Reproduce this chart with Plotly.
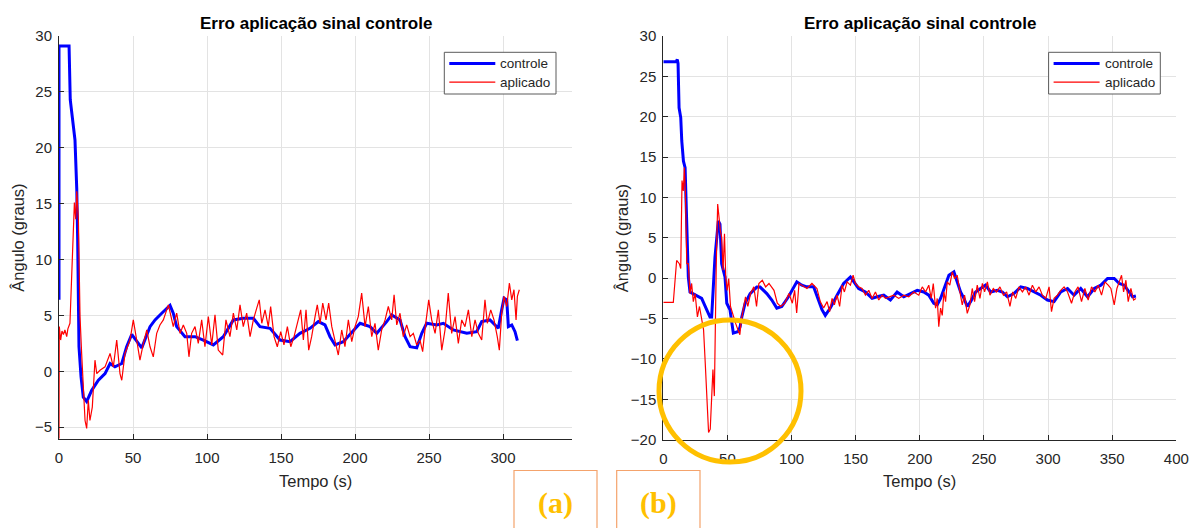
import plotly.graph_objects as go

W, H = 1190, 528

# ---------------- data ----------------
title_text = "Erro aplicação sinal controle"
xlabel_text = "Tempo (s)"
ylabel_text = "Ângulo (graus)"
legend_names = ["controle", "aplicado"]
panel_labels = ["(a)", "(b)"]

a_xticks = [0, 50, 100, 150, 200, 250, 300]
a_yticks = [-5, 0, 5, 10, 15, 20, 25, 30]
b_xticks = [0, 50, 100, 150, 200, 250, 300, 350, 400]
b_yticks = [-20, -15, -10, -5, 0, 5, 10, 15, 20, 25, 30]
a_xrange = [0, 346.6]
a_yrange = [-6.08, 30]
b_xrange = [0, 400]
b_yrange = [-20, 30]

# panel (a) - controle
a_t_controle = [0, 0, 6.8, 7.6, 10.8, 12.0, 12.6, 13.0, 13.5, 14.9, 16.4, 18.7, 22.1, 26.6, 31.1, 34.5,
                37.8, 42.4, 45.7, 49.1, 55.9, 61.5, 64.9, 69.4, 75.0, 77.2, 79.5, 85.1, 91.9, 97.5,
                104.3, 111.0, 117.8, 124.5, 131.3, 135.8, 142.6, 149.3, 156.1, 162.8, 169.6, 175.2,
                179.7, 183.1, 186.5, 192.1, 198.9, 203.4, 210.1, 214.7, 221.4, 224.8, 230.4, 233.8,
                237.2, 241.7, 245.1, 248.4, 255.2, 259.7, 266.4, 275.5, 282.2, 285.6, 291.2, 296.8,
                299.1, 300.7, 302.5, 303.6, 305.9, 308.1, 309.7]
a_controle = [6.4, 29.1, 29.1, 24.3, 20.7, 16.3, 11.8, 6.4, 2.2, -0.5, -2.3, -2.7, -1.7, -0.8, -0.2, 0.7,
              0.4, 0.7, 2.2, 3.3, 2.1, 4.0, 4.6, 5.2, 5.9, 5.2, 4.0, 3.1, 3.1, 2.8,
              2.36, 3.1, 4.6, 4.75, 4.75, 4.0, 3.85, 2.8, 2.65, 3.4, 3.85, 4.45,
              4.15, 3.1, 2.36, 2.65, 3.7, 4.3, 4.0, 3.4, 4.45, 5.05, 4.6, 3.1,
              2.2, 2.1, 3.4, 4.3, 4.15, 4.3, 3.7, 3.4, 3.55, 4.45, 4.6, 3.85,
              5.5, 6.55, 6.4, 4.0, 4.15, 3.55, 2.75]

# panel (a) - aplicado
a_t_aplicado = [0, 0.2, 1.1, 2.0, 3.0, 4.0, 5.2, 6.0, 7.4, 9.0, 10.4, 11.3, 12.0, 13.1, 14.2, 15.3, 16.4,
                17.6, 18.7, 19.8, 20.9, 22.5, 24.3, 25.5, 27.7, 31.1, 34.5, 36.7, 39.0, 41.2, 42.4,
                44.6, 48.0, 50.2, 52.5, 54.7, 57.0, 59.3, 61.5, 63.7, 66.0, 68.2, 70.5, 72.7, 73.9,
                75.7, 77.2, 79.5, 81.8, 84.0, 86.3, 87.8, 89.6, 91.9, 94.1,
                96.4, 98.6, 100.9, 103.2, 105.4, 107.6, 110.6, 112.8, 115.5, 117.8, 120.1, 122.3,
                124.5, 126.8, 129.1, 131.3, 133.6, 135.3, 137.0, 139.2, 141.4, 143.0, 145.3, 147.5,
                149.8, 152.0, 154.3, 156.6, 158.8, 161.0, 163.3, 165.1, 166.9, 168.7, 170.7, 173.0,
                174.5, 176.4, 178.2, 180.4, 182.2, 184.3, 186.5, 188.7, 191.0, 193.2, 195.5, 197.8,
                200.0, 202.2, 204.5, 206.8, 209.0, 211.3, 213.5, 215.7, 218.0, 220.3, 222.5, 224.8,
                226.4, 228.2, 230.4, 232.6, 234.9, 237.2, 239.4, 241.7, 243.9, 245.7, 247.5, 249.8,
                251.8, 254.1, 256.3, 258.6, 260.8, 263.0, 265.3, 267.6, 269.8, 272.1, 274.3, 276.6,
                278.9, 281.1, 283.3, 285.6, 287.8, 289.4, 291.7, 293.9, 296.1, 297.5, 299.1, 300.7,
                302.5, 304.3, 305.9, 307.4, 308.8, 309.7, 311.0]
a_aplicado = [-6.0, 4.0, 2.8, 3.6, 3.3, 3.7, 3.1, 3.8, 4.3, 10.0, 15.1, 13.6, 16.1, 13.6, 4.9, 1.6, -0.8,
              -4.4, -5.1, -2.6, -4.4, -3.2, 1.0, -0.2, 0.1, 0.4, 1.6, 0.4, 2.8, -0.2, -0.8,
              1.6, 2.8, 4.6, 2.8, 1.0, 2.5, 3.7, 2.2, 1.3, 3.4, 4.15, 4.6, 5.5, 5.95,
              4.9, 4.0, 5.2, 3.4, 4.15, 3.4, 1.3, 3.4, 4.0, 2.5,
              4.6, 2.2, 4.9, 2.36, 5.05, 1.9, 1.46, 4.6, 3.1, 5.2, 3.7, 5.95,
              4.0, 5.2, 3.1, 4.6, 5.65, 6.4, 4.3, 5.5, 4.0, 5.8, 3.1, 2.2,
              3.55, 2.36, 4.0, 2.2, 3.1, 4.3, 5.5, 2.8, 5.5, 1.9, 3.1, 4.9,
              5.95, 4.3, 6.1, 4.6, 6.1, 4.0, 2.65, 1.46, 3.7, 2.2, 4.6, 2.65,
              4.0, 4.9, 7.0, 4.0, 5.8, 3.1, 4.3, 1.9, 3.7, 4.6, 5.8, 4.6,
              6.85, 4.15, 5.2, 3.1, 4.15, 3.1, 3.4, 2.36, 2.8, 1.76, 4.0, 6.4,
              4.6, 3.4, 5.5, 1.9, 3.7, 7.0, 3.4, 4.9, 2.5, 4.6, 4.0, 5.5,
              3.1, 4.6, 3.4, 2.8, 6.4, 4.3, 5.5, 4.6, 3.1, 1.9, 5.2, 6.7,
              5.8, 7.9, 6.4, 7.3, 4.6, 6.7, 7.3]

# panel (b) - controle
b_t_controle = [0, 10.0, 10.9, 11.5, 12.3, 13.6, 14.4, 15.7, 17.0, 17.7, 18.3, 19.5, 20.8, 26.0, 29.9,
                33.8, 36.4, 37.7, 39.0, 40.3, 42.9, 44.2, 45.5, 48.1, 49.5, 52.0, 54.6, 58.5, 59.9,
                61.2, 63.8, 67.7, 72.9, 75.5, 80.7, 84.6, 88.5, 92.4, 97.6, 101.5, 104.1, 108.0,
                112.0, 117.2, 121.1, 123.7, 126.3, 130.2, 135.5, 140.6, 145.9, 148.5, 152.3, 157.6,
                162.8, 166.7, 171.9, 177.1, 182.3, 187.5, 192.7, 198.0, 203.1, 207.0, 210.9, 213.6,
                216.2, 220.1, 222.7, 226.6, 229.2, 231.8, 234.4, 237.0, 239.6, 243.5, 247.4, 251.3,
                255.2, 260.5, 264.4, 268.3, 273.4, 278.7, 283.9, 289.1, 294.3, 299.5, 304.7, 309.9,
                315.2, 320.3, 325.5, 330.8, 336.0, 341.2, 346.4, 351.6, 355.5, 359.4, 363.3, 365.9,
                368.5]
b_controle = [26.8, 26.8, 27.1, 26.6, 21.1, 19.9, 17.0, 14.5, 13.7, 10.0, 5.9, 0.16, -1.7, -2.1, -2.5,
              -3.9, -4.8, -4.8, -0.65, 2.6, 7.1, 6.7, 1.8, 0.16, -3.1, -3.9, -6.8, -6.6, -6.0,
              -4.8, -3.1, -1.9, -1.1, -1.1, -1.9, -2.7, -3.7, -3.5, -2.3, -1.1, -0.45, -0.86,
              -1.07, -1.07, -2.9, -3.9, -4.6, -3.7, -2.1, -0.65, 0.16, -0.45, -1.27, -1.7,
              -2.5, -2.3, -2.1, -2.7, -1.7, -2.3, -1.9, -1.5, -1.7, -2.1, -3.1, -3.3,
              -2.5, -0.86, 0.37, 0.78, -0.45, -1.7, -2.5, -3.5, -2.9, -1.7, -1.27, -0.86,
              -1.7, -1.5, -1.7, -2.3, -1.9, -1.07, -1.27, -1.7, -2.1, -2.7, -2.9, -1.7,
              -1.27, -2.1, -1.27, -2.3, -1.27, -0.86, -0.04, -0.04, -0.65, -0.86, -1.7, -2.3,
              -2.2]

# panel (b) - aplicado
b_t_aplicado = [0, 7.8, 10.4, 12.5, 13.6, 14.6, 15.6, 16.4, 17.2, 18.3, 19.5, 20.8, 22.1, 23.4, 24.8,
                26.6, 28.2, 30.1, 31.4, 32.7, 34.0, 35.3, 36.6, 37.4, 38.7, 39.8, 40.5, 41.3, 42.4,
                43.4, 44.5, 45.5, 46.6, 47.7, 48.7, 49.8, 51.0, 52.4, 54.5, 56.4, 58.2, 59.7, 60.8,
                62.4, 64.1, 65.9, 68.0, 70.6, 72.7, 74.5, 77.2, 79.8, 82.4, 86.3, 88.9, 91.5, 94.6,
                98.0, 100.6, 102.4, 104.0, 105.8,
                108.1, 112.0, 115.9, 119.8, 122.4, 125.0, 127.7, 129.7, 131.6, 133.4, 135.5, 137.5,
                139.4, 141.2, 143.3, 145.9, 148.0, 149.8, 152.3, 155.0, 157.6, 160.2, 162.8, 165.4,
                168.0, 170.6, 173.2, 175.8, 179.7, 183.6, 187.5, 191.4, 195.3, 199.2, 201.9, 204.5,
                207.0, 208.9, 210.5, 212.3, 213.6, 214.8, 216.2, 217.5, 218.8, 220.1, 221.4, 223.4,
                225.3, 227.1, 229.2, 231.3, 233.1, 234.9, 237.0, 239.1, 240.9, 242.7, 244.8, 246.9,
                248.8, 250.5, 252.7, 254.7, 257.3, 259.9, 262.5, 265.2, 267.7, 270.3, 272.4, 274.8,
                277.3, 280.0, 282.6, 285.2, 287.8, 290.4, 293.0, 295.6, 298.2, 300.8, 302.7, 304.7,
                307.3, 309.9, 312.5, 315.2, 318.3, 320.9, 323.4, 326.1, 328.7, 331.3, 333.9, 336.5,
                339.1, 341.7, 344.3, 346.9, 349.0, 351.6, 353.7, 355.5, 357.3, 358.9, 360.7, 362.5,
                364.6, 366.7, 368.5]
b_aplicado = [-3.0, -3.0, 2.2, 1.8, 1.2, 12.1, 10.8, 13.7, 10.8, 1.8, 1.8, -1.9, -0.65, -2.9, -1.9,
              -4.8, -3.5, -5.6, -6.4, -10.5, -14.6, -19.1, -18.7, -15.8, -11.3, -14.6, -4.3, 1.8, 9.2,
              7.5, 5.9, 5.1, 1.0, 5.5, 0.16, -1.5, -0.04, -3.5, -4.8, -5.6, -6.4, -7.0, -5.2,
              -3.5, -2.3, -3.5, -1.9, -1.07, -3.5, -0.65, -0.25, -1.07, -0.65, -1.5, -3.1, -3.5, -3.1,
              -1.9, -3.1, -1.5, -4.3, -0.65,
              -0.86, -1.27, -0.65, -1.27, -2.9, -3.7, -2.9, -4.15, -2.5, -3.3, -2.1, -3.5,
              -0.86, -1.7, -0.45, -0.86, 0.37, -0.65, -1.07, -1.27, -2.1, -1.5, -2.5, -1.7,
              -2.7, -2.1, -2.5, -2.3, -2.1, -2.5, -2.1, -2.3, -1.7, -2.1, -1.07, -1.7,
              -0.86, -2.5, -0.65, -3.7, -2.5, -6.0, -3.7, -4.6, -1.7, -2.9, -0.45, -0.86,
              0.78, -0.04, 0.37, -1.7, -3.3, -2.1, -4.35, -3.3, -1.27, -2.9, -0.86, -2.5,
              -0.65, -1.7, -0.45, -2.1, -1.27, -1.7, -1.07, -2.1, -1.7, -3.5, -1.7, -2.5,
              -1.07, -1.7, -1.07, -2.1, -0.86, -1.7, -1.07, -2.1, -2.5, -1.07, -4.15, -2.5,
              -2.1, -1.5, -1.07, -1.7, -3.1, -1.7, -1.07, -2.9, -1.27, -2.7, -1.07, -1.7,
              -0.86, -2.1, -0.45, -0.86, -1.27, -3.3, -1.27, -0.45, 0.37, -1.7, -0.25, -2.9,
              -1.27, -2.7, -2.5]

# ---------------- figure ----------------
BLUE = "#0000FF"
RED = "#FF0000"
AX = "#262626"
GRID = "#E3E3E3"
GOLD = "#FFC000"
FONT = "Liberation Sans, Arial, Helvetica, sans-serif"

# pixel geometry of the two axes boxes
A_BOX = (59, 572, 36, 439.3)     # left, right, top, bottom
B_BOX = (663.3, 1176.3, 36, 439.7)


def px(x):
    return x / W


def py(y):
    return 1 - y / H


fig = go.Figure()
fig.add_trace(go.Scatter(x=a_t_controle, y=a_controle, mode="lines", name=legend_names[0],
                         line=dict(color=BLUE, width=3), xaxis="x", yaxis="y", showlegend=False))
fig.add_trace(go.Scatter(x=a_t_aplicado, y=a_aplicado, mode="lines", name=legend_names[1],
                         line=dict(color=RED, width=1.2), xaxis="x", yaxis="y", showlegend=False))
fig.add_trace(go.Scatter(x=b_t_controle, y=b_controle, mode="lines", name=legend_names[0],
                         line=dict(color=BLUE, width=3), xaxis="x2", yaxis="y2", showlegend=False))
fig.add_trace(go.Scatter(x=b_t_aplicado, y=b_aplicado, mode="lines", name=legend_names[1],
                         line=dict(color=RED, width=1.2), xaxis="x2", yaxis="y2", showlegend=False))


def xaxis(box, rng, ticks, anchor):
    return dict(domain=[px(box[0]), px(box[1])], range=rng, tickvals=ticks,
                showgrid=True, gridcolor=GRID, gridwidth=1, zeroline=False,
                showline=True, linecolor=AX, linewidth=1, ticks="inside", ticklen=5,
                tickcolor=AX, tickfont=dict(family=FONT, size=15, color=AX),
                ticklabelstandoff=5,
                anchor=anchor, fixedrange=True, automargin=False)


def yaxis(box, rng, ticks, anchor):
    return dict(domain=[py(box[3]), py(box[2])], range=rng, tickvals=ticks,
                showgrid=True, gridcolor=GRID, gridwidth=1, zeroline=False,
                showline=True, linecolor=AX, linewidth=1, ticks="inside", ticklen=5,
                tickcolor=AX, tickfont=dict(family=FONT, size=15, color=AX),
                ticklabelstandoff=3,
                anchor=anchor, fixedrange=True, automargin=False)


shapes = []
annotations = []

for box in (A_BOX, B_BOX):
    l, r, t, b = box
    cx = (l + r) / 2
    # title
    annotations.append(dict(text="<b>" + title_text + "</b>", x=px(cx), y=py(23), xref="paper", yref="paper",
                            xanchor="center", yanchor="middle", showarrow=False,
                            font=dict(family=FONT, size=17, color="#000000")))
    # x label
    annotations.append(dict(text=xlabel_text, x=px(cx), y=py(481), xref="paper", yref="paper",
                            xanchor="center", yanchor="middle", showarrow=False,
                            font=dict(family=FONT, size=16.5, color=AX)))
    # y label
    annotations.append(dict(text=ylabel_text, x=px(l - 41), y=py((t + b) / 2), xref="paper", yref="paper",
                            xanchor="center", yanchor="middle", showarrow=False, textangle=-90,
                            font=dict(family=FONT, size=16.5, color=AX)))
    # legend box
    lx0, lx1, ly0, ly1 = r - 127.7, r - 16, 52.3, 94
    shapes.append(dict(type="rect", xref="paper", yref="paper", x0=px(lx0), x1=px(lx1), y0=py(ly1), y1=py(ly0),
                       line=dict(color="#5A5A5A", width=1), fillcolor="white", layer="above"))
    for i, (name, col, wd) in enumerate(zip(legend_names, [BLUE, RED], [3, 1.2])):
        yy = 63.5 + i * 18.7
        shapes.append(dict(type="line", xref="paper", yref="paper", x0=px(lx0 + 5), x1=px(lx0 + 51),
                           y0=py(yy), y1=py(yy), line=dict(color=col, width=wd), layer="above"))
        annotations.append(dict(text=name, x=px(lx0 + 54), y=py(yy), xref="paper", yref="paper",
                                xanchor="left", yanchor="middle", showarrow=False,
                                font=dict(family=FONT, size=13.5, color=AX)))

# panel labels with orange boxes
for lab, (x0, x1) in zip(panel_labels, [(514, 597), (616.7, 700)]):
    shapes.append(dict(type="rect", xref="paper", yref="paper", x0=px(x0), x1=px(x1), y0=py(540), y1=py(470.5),
                       line=dict(color="#F4A36C", width=1.2), fillcolor="rgba(0,0,0,0)", layer="above"))
    annotations.append(dict(text="<b>" + lab + "</b>", x=px((x0 + x1) / 2), y=py(503), xref="paper", yref="paper",
                            xanchor="center", yanchor="middle", showarrow=False,
                            font=dict(family="Liberation Serif, Times New Roman, serif", size=30, color=GOLD)))

# highlight circle on panel (b)
shapes.append(dict(type="circle", xref="paper", yref="paper", x0=px(659), x1=px(801), y0=py(462), y1=py(320),
                   line=dict(color=GOLD, width=5), layer="above"))

fig.update_layout(
    width=W, height=H,
    margin=dict(l=0, r=0, t=0, b=0, pad=0, autoexpand=False),
    paper_bgcolor="white", plot_bgcolor="white",
    xaxis=xaxis(A_BOX, a_xrange, a_xticks, "y"),
    yaxis=yaxis(A_BOX, a_yrange, a_yticks, "x"),
    xaxis2=xaxis(B_BOX, b_xrange, b_xticks, "y2"),
    yaxis2=yaxis(B_BOX, b_yrange, b_yticks, "x2"),
    shapes=shapes, annotations=annotations,
    showlegend=False,
)

fig.write_html("out.html")
